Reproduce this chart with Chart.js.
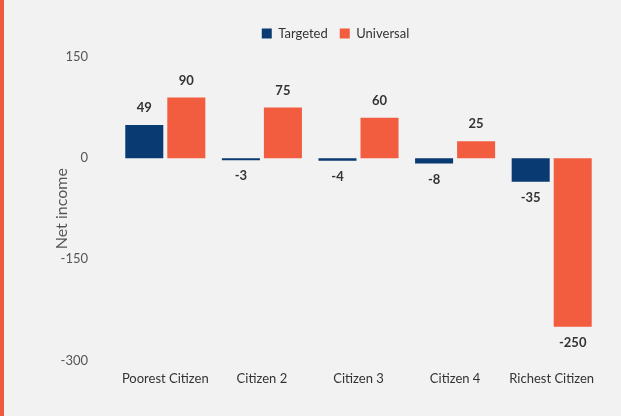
<!DOCTYPE html>
<html>
<head>
<meta charset="utf-8">
<script src="https://cdn.jsdelivr.net/npm/chart.js@4"></script>
<style>
  html, body { margin: 0; padding: 0; background: #f2f2f2; }
  #wrap { position: relative; width: 621px; height: 416px; }
  #stripe { position: absolute; left: 0; top: 0; width: 4px; height: 416px; background: #f05a3c; }
</style>
</head>
<body>
<div id="wrap">
  <canvas id="c" width="621" height="416"></canvas>
  <div id="stripe"></div>
</div>
<script>
const categories = ["Poorest Citizen", "Citizen 2", "Citizen 3", "Citizen 4", "Richest Citizen"];
const targeted = [49, -3, -4, -8, -35];
const universal = [90, 75, 60, 25, -250];
const seriesNames = ["Targeted", "Universal"];
const yTicks = [150, 0, -150, -300];

const FONT = "Lato, 'Open Sans', sans-serif";

const legendSpace = {
  id: 'legendSpace',
  beforeUpdate(chart) {
    const lg = chart.legend;
    if (lg && !lg._patched) {
      const orig = lg.fit;
      lg.fit = function () { orig.call(this); this.height += 7; };
      lg._patched = true;
    }
  }
};

const valueLabels = {
  id: 'valueLabels',
  afterDatasetsDraw(chart) {
    const ctx = chart.ctx;
    ctx.save();
    ctx.font = "bold 13px " + FONT;
    ctx.fillStyle = "#333333";
    ctx.textAlign = "center";
    ctx.textBaseline = "middle";
    chart.data.datasets.forEach((ds, i) => {
      const meta = chart.getDatasetMeta(i);
      meta.data.forEach((bar, j) => {
        const v = ds.data[j];
        const y = v >= 0 ? bar.y - 17 : bar.y + 16;
        ctx.fillText(String(v), bar.x, y);
      });
    });
    ctx.restore();
  }
};

new Chart(document.getElementById('c'), {
  type: 'bar',
  data: {
    labels: categories,
    datasets: [
      { label: seriesNames[0], data: targeted, backgroundColor: '#0a3a72', categoryPercentage: 0.87, barPercentage: 0.905 },
      { label: seriesNames[1], data: universal, backgroundColor: '#f25c3f', categoryPercentage: 0.87, barPercentage: 0.905 }
    ]
  },
  options: {
    responsive: false,
    animation: false,
    layout: { padding: { left: 50, right: 0, top: 15, bottom: 18 } },
    plugins: {
      legend: {
        position: 'top',
        labels: { boxWidth: 10, boxHeight: 10, font: { family: FONT, size: 13 }, color: '#333333', padding: 12 }
      },
      tooltip: { enabled: false }
    },
    scales: {
      x: {
        grid: { display: false, drawTicks: false },
        border: { display: false },
        ticks: { font: { family: FONT, size: 13 }, color: '#333333', padding: 11, maxRotation: 0, autoSkip: false }
      },
      y: {
        min: -300, max: 150,
        afterBuildTicks: (s) => { s.ticks = yTicks.map(v => ({ value: v })); },
        grid: { display: false, drawTicks: false },
        border: { display: false },
        ticks: { font: { family: FONT, size: 13 }, color: '#555555', padding: 29 },
        title: { display: true, text: 'Net income', font: { family: FONT, size: 16 }, color: '#555555', padding: { top: 2, bottom: 2 } },
        afterFit: (s) => { s.width = 67; }
      },
      y2: {
        position: 'right',
        display: true,
        grid: { display: false, drawTicks: false },
        border: { display: false },
        ticks: { display: false },
        afterFit: (s) => { s.width = 21; }
      }
    }
  },
  plugins: [legendSpace, valueLabels]
});
</script>
</body>
</html>
